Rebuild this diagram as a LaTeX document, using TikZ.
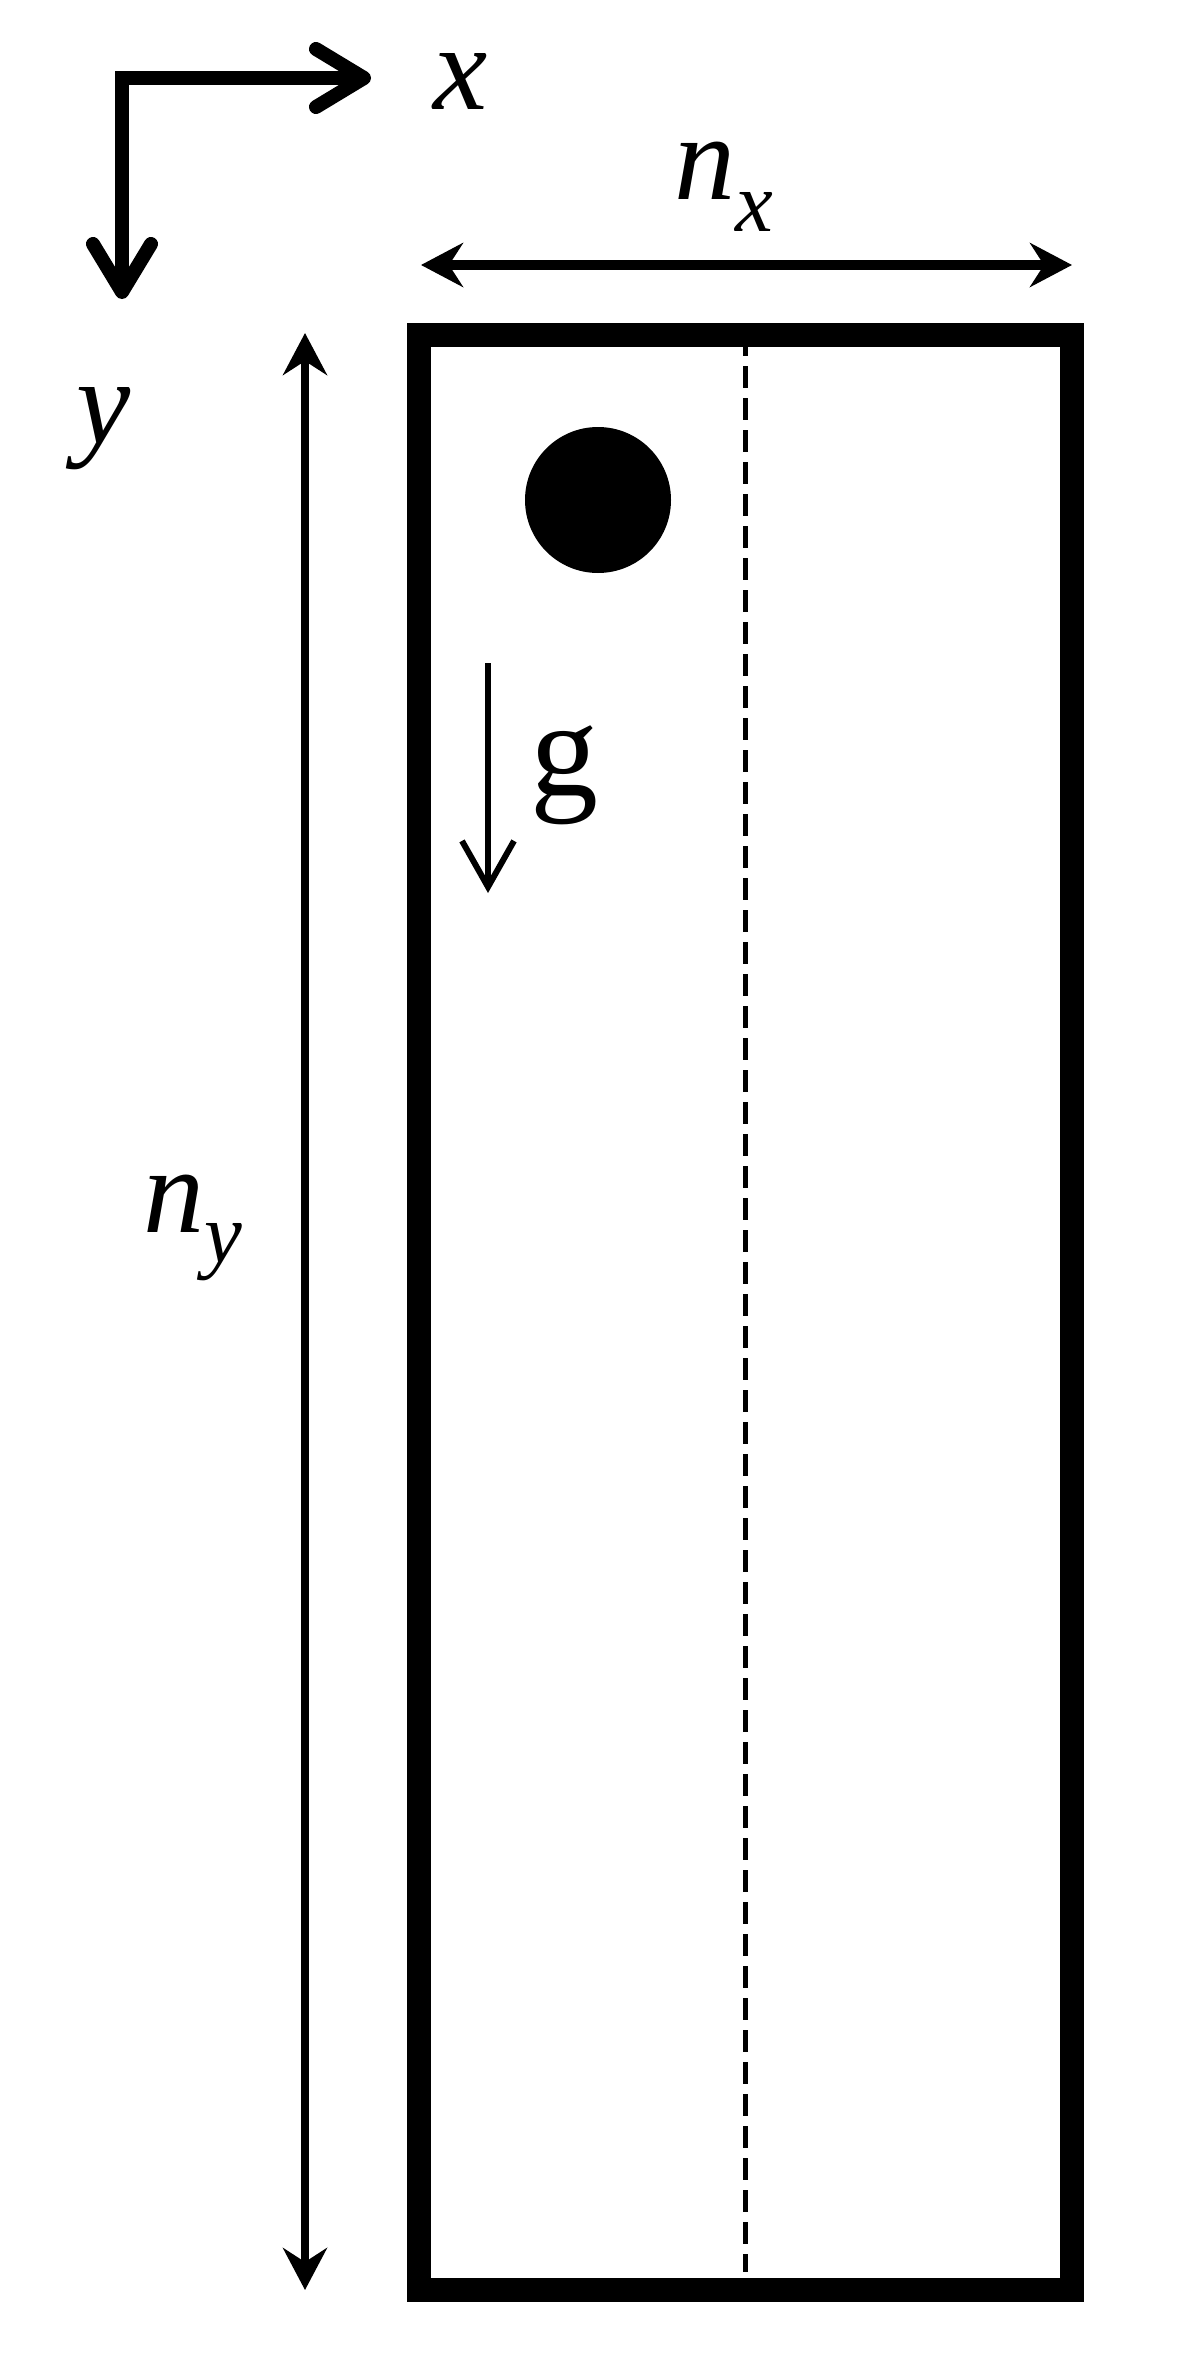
\documentclass[tikz,border=0pt]{standalone}
\usepackage{fontspec}
\setmainfont{Liberation Serif}
\usetikzlibrary{arrows.meta}
\newcommand{\bigfont}{\fontsize{122}{122}\selectfont\itshape}
\newcommand{\subfont}{\fontsize{85}{85}\selectfont\itshape}
\tikzset{
  lbl/.style={inner sep=0pt, outer sep=0pt, anchor=base west, font=\bigfont},
  axisarrow/.style={line width=14pt, line join=miter, {Straight Barb[length=48pt, width=58pt, round]}-{Straight Barb[length=48pt, width=58pt, round]}},
  dimarrow/.style={{Stealth[length=42pt, width=44pt, inset=14pt]}-{Stealth[length=42pt, width=44pt, inset=14pt]}},
  gravarrow/.style={line width=6pt, -{Straight Barb[length=46pt, width=52pt]}},
  wall/.style={line width=24pt, line join=miter},
  midline/.style={line width=5pt, dash pattern=on 22pt off 10pt}
}
\begin{document}
\begin{tikzpicture}[x=1pt,y=-1pt]
\useasboundingbox (0,0) rectangle (1181,2360);
% axes
\coordinate (O) at (122,78);
\coordinate (XE) at (371,78);
\coordinate (YE) at (122,299);
\draw[axisarrow] (YE) -- (O) -- (XE);
\node[lbl] (xl) at (433,110) {x};
\node[lbl] (yl) at (76,443) {y};
% n_x dimension
\coordinate (NXL) at (421,265);
\coordinate (NXR) at (1072,265);
\draw[dimarrow, line width=10pt] (NXL) -- (NXR);
\node[lbl] (nx) at (674,200) {n\raisebox{-32pt}{\subfont x}};
% n_y dimension
\coordinate (NYT) at (305,333);
\coordinate (NYB) at (305,2290);
\draw[dimarrow, line width=8pt] (NYT) -- (NYB);
\node[lbl] (ny) at (143,1232) {n\raisebox{-30pt}{\subfont y}};
% dashed centre line
\coordinate (DT) at (745,334);
\coordinate (DB) at (745,2272);
\draw[midline] (DT) -- (DB);
% container
\coordinate (RA) at (419,335);
\coordinate (RB) at (1072,2290);
\draw[wall] (RA) rectangle (RB);
% ball
\coordinate (C) at (598,500);
\fill (C) circle (73);
% gravity
\coordinate (GT) at (488,663);
\coordinate (GB) at (488,893);
\draw[gravarrow] (GT) -- (GB);
\node[lbl, font=\fontsize{136}{136}\selectfont\upshape] (g) at (530,795) {g};
\end{tikzpicture}
\end{document}
